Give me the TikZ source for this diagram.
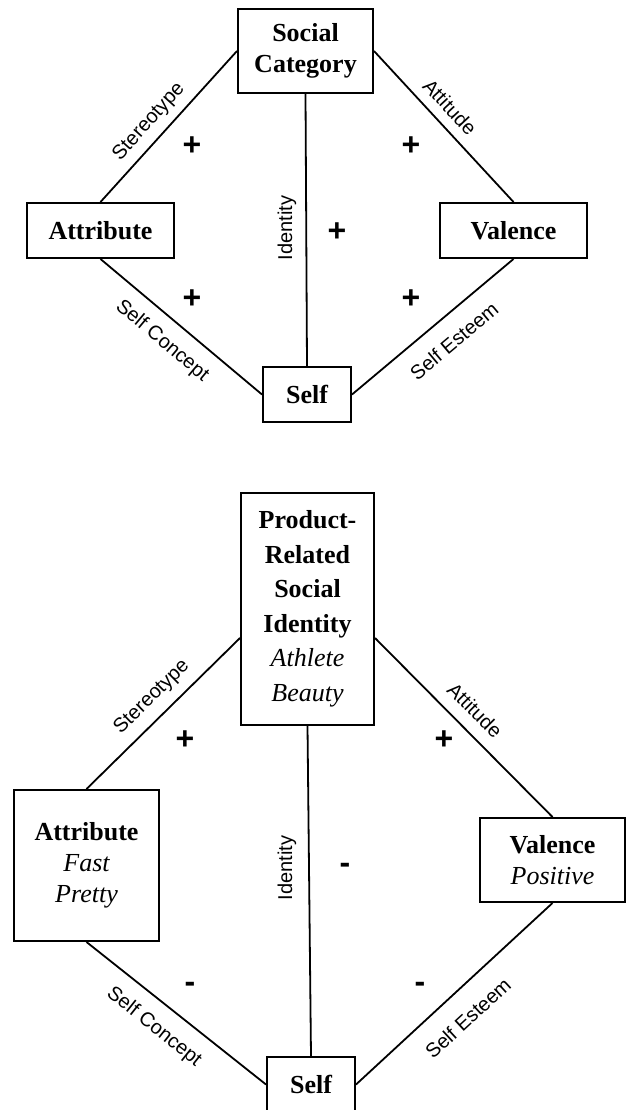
\documentclass[tikz,border=0pt]{standalone}
\usepackage{fontspec}
\setmainfont{Liberation Serif}
\newfontfamily\lblfont{Liberation Sans}
\usetikzlibrary{positioning}

\tikzset{
    box/.style={draw,line width=2pt,inner sep=0pt,align=center,font=\fontsize{26}{31}\selectfont\bfseries},
    lbl/.style={inner sep=0pt,font=\lblfont\fontsize{20}{22}\selectfont},
    sign/.style={inner sep=0pt,font=\lblfont\bfseries\fontsize{32}{32}\selectfont},
    link/.style={line width=1.8pt}
}

\begin{document}
\begin{tikzpicture}[x=1pt,y=-1pt]
    \useasboundingbox (0,0) rectangle (626,1110);

    % === Upper diagram ===
    \node[box,minimum width=135pt,minimum height=84pt] (sc) at (305.5,51) {Social\\Category};
    \node[box,minimum width=147pt,minimum height=55pt] (attr) at (100.5,230.5) {Attribute};
    \node[box,minimum width=147pt,minimum height=55pt] (val) at (513.5,230.5) {Valence};
    \node[box,minimum width=88pt,minimum height=55pt] (self) at (307,394.5) {Self};

    \draw[link] (sc.west) -- (attr.north);
    \draw[link] (sc.east) -- (val.north);
    \draw[link] (attr.south) -- (self.west);
    \draw[link] (val.south) -- (self.east);
    \draw[link] (sc.south) -- (self.north);

    \node[lbl,rotate=48] (stereo) at (149,122) {Stereotype};
    \node[lbl,rotate=-47] (attit) at (450,107) {Attitude};
    \node[lbl,rotate=-40] (sconc) at (162,341) {Self Concept};
    \node[lbl,rotate=40] (sest) at (454,341) {Self Esteem};
    \node[lbl,rotate=90] (ident) at (287,228) {Identity};

    \node[sign] (p1) at (192,146) {+};
    \node[sign] (p2) at (411,146) {+};
    \node[sign] (p3) at (337,232) {+};
    \node[sign] (p4) at (192,299) {+};
    \node[sign] (p5) at (411,299) {+};

    % === Lower diagram ===
    \node[box,minimum width=133pt,minimum height=232pt,font=\fontsize{26}{34.5}\selectfont\bfseries] (prsi) at (307.5,609)
        {Product-\\Related\\Social\\Identity\\{\mdseries\itshape Athlete}\\{\mdseries\itshape Beauty}};
    \node[box,minimum width=145pt,minimum height=151pt] (attrb) at (86.5,865.5) {Attribute\\{\mdseries\itshape Fast}\\{\mdseries\itshape Pretty}};
    \node[box,minimum width=145pt,minimum height=84pt] (valb) at (552.5,860) {Valence\\{\mdseries\itshape Positive}};
    \node[box,minimum width=88pt,minimum height=55pt] (selfb) at (311,1084.5) {Self};

    \draw[link] ([yshift=-29pt]prsi.west) -- (attrb.north);
    \draw[link] ([yshift=-29pt]prsi.east) -- (valb.north);
    \draw[link] (attrb.south) -- (selfb.west);
    \draw[link] (valb.south) -- (selfb.east);
    \draw[link] (prsi.south) -- (selfb.north);

    \node[lbl,rotate=44.5] (stereob) at (152,697) {Stereotype};
    \node[lbl,rotate=-45] (attitb) at (475,710) {Attitude};
    \node[lbl,rotate=-38.5] (sconcb) at (154,1027) {Self Concept};
    \node[lbl,rotate=42.7] (sestb) at (468,1018) {Self Esteem};
    \node[lbl,rotate=90] (identb) at (287,868) {Identity};

    \node[sign] (q1) at (185,740) {+};
    \node[sign] (q2) at (444,740) {+};
    \node[sign] (q3) at (345,868) {-};
    \node[sign] (q4) at (190,987) {-};
    \node[sign] (q5) at (420,987) {-};
\end{tikzpicture}
\end{document}
